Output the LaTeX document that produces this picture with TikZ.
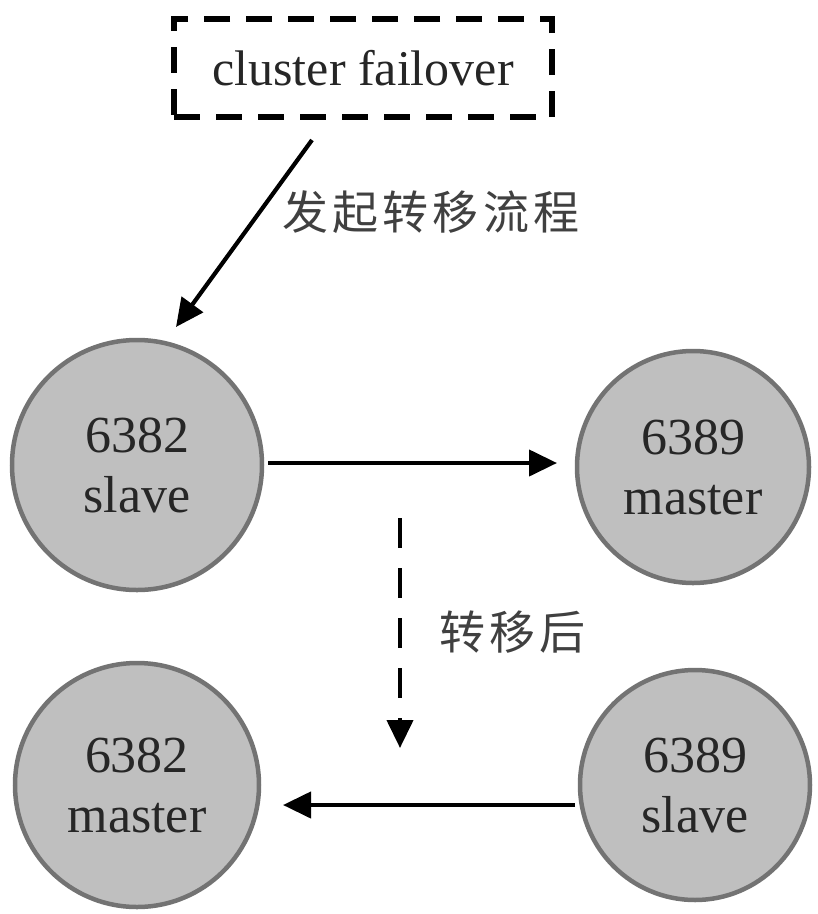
\documentclass[tikz,border=0pt]{standalone}
\usepackage{fontspec}
\setmainfont{Liberation Serif}
\newfontfamily\cjk[LetterSpace=9]{Noto Sans CJK SC}
\usetikzlibrary{arrows.meta}
\tikzset{
  srv/.style={circle, draw=black!55, line width=4.5pt, fill=black!25, inner sep=0pt,
    align=center, font=\fontsize{52}{60}\selectfont, text=black!85},
  conn/.style={line width=4.2pt, -{Triangle[length=28pt,width=26pt]}},
  lbl/.style={font=\cjk\fontsize{46}{50}\selectfont, text=black!75},
}
\begin{document}
\begin{tikzpicture}[x=1pt,y=-1pt]
\useasboundingbox (0,0) rectangle (818,914);
\node[draw, dash pattern=on 26pt off 16pt, line width=6pt,
  minimum width=378pt, minimum height=98pt, font=\fontsize{50}{54}\selectfont, text=black!85]
  (cmd) at (363,68) {cluster failover};
\node[srv, minimum size=250pt] (s1) at (137,465) {6382\\slave};
\node[srv, minimum size=232pt] (m1) at (693,467) {6389\\master};
\node[srv, minimum size=244pt] (m2) at (137,785) {6382\\master};
\node[srv, minimum size=230pt] (s2) at (695,785) {6389\\slave};
\coordinate (a1s) at (312,140);
\coordinate (a1e) at (176,327);
\coordinate (dvs) at (400,518);
\coordinate (dve) at (400,748);
\coordinate (h1s) at (268,463);
\coordinate (h1e) at (557,463);
\coordinate (h2s) at (575,805);
\coordinate (h2e) at (283,805);
\draw[conn] (a1s) -- (a1e);
\draw[conn] (h1s) -- (h1e);
\draw[conn, dash pattern=on 30pt off 20pt] (dvs) -- (dve);
\draw[conn] (h2s) -- (h2e);
\node[lbl, anchor=west] (t1) at (279,212) {发起转移流程};
\node[lbl, anchor=west] (t2) at (436,632) {转移后};
\end{tikzpicture}
\end{document}
